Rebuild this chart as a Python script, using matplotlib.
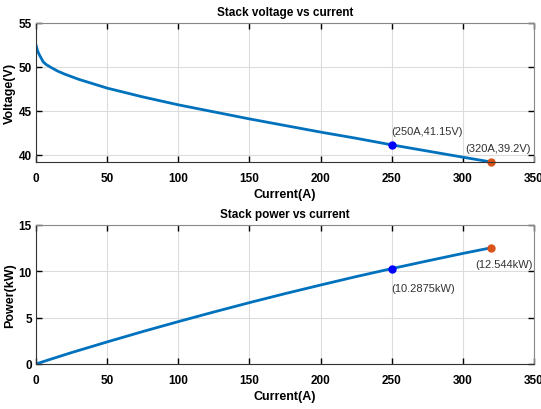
import matplotlib
matplotlib.use("Agg")
import matplotlib.pyplot as plt

# values
current_v = [0, 1, 2, 3, 5, 7, 10, 15, 20, 30, 40, 50, 75, 100, 125, 150, 175, 200, 225, 250, 275, 300, 320]
voltage = [52.5, 51.9, 51.5, 51.2, 50.6, 50.3, 50.0, 49.55, 49.2, 48.6, 48.1, 47.6, 46.6, 45.7, 44.9, 44.1,
           43.35, 42.6, 41.9, 41.15, 40.45, 39.75, 39.2]

current_p = [0, 10, 25, 50, 75, 100, 125, 150, 175, 200, 225, 250, 275, 300, 320]
power = [0, 0.50, 1.23, 2.38, 3.50, 4.57, 5.61, 6.62, 7.59, 8.52, 9.43, 10.29, 11.12, 11.93, 12.544]

pt_mid = (250, 41.15, 10.2875)
pt_end = (320, 39.2, 12.544)

plt.rcParams['font.family'] = ['Liberation Sans', 'DejaVu Sans']

line_col = "#0072BD"
end_col = "#D95319"

fig = plt.figure(figsize=(5.41, 4.10), dpi=100)
ax1 = fig.add_axes([0.0665, 0.6024, 0.9205, 0.3391])
ax2 = fig.add_axes([0.0665, 0.1098, 0.9205, 0.3390])


def style(ax):
    ax.tick_params(direction="in", top=True, right=True, length=4, width=1,
                   labelsize=8.5)
    ax.tick_params(axis="x", pad=7)
    ax.tick_params(axis="y", pad=3)
    for lab in ax.get_xticklabels() + ax.get_yticklabels():
        lab.set_fontweight("bold")
    ax.grid(True, color="#dcdcdc", linewidth=0.8)
    ax.set_axisbelow(True)
    for s in ["top", "right"]:
        ax.spines[s].set_color("#888888")
    for s in ["left", "bottom"]:
        ax.spines[s].set_color("#333333")


ax1.plot(current_v, voltage, color=line_col, linewidth=2)
ax1.plot(pt_mid[0], pt_mid[1], "o", color="blue", markersize=5)
ax1.plot(pt_end[0], pt_end[1], "o", color=end_col, markersize=5, clip_on=False)
ax1.text(250, 42.4, "(250A,41.15V)", fontsize=8, color="#333333")
ax1.text(302, 40.5, "(320A,39.2V)", fontsize=8, color="#333333")
ax1.set_xlim(0, 350)
ax1.set_ylim(39.2, 55)
ax1.set_xticks(range(0, 351, 50))
ax1.set_yticks([40, 45, 50, 55])
ax1.set_title("Stack voltage vs current", fontsize=8.5, fontweight="bold", pad=6)
ax1.set_xlabel("Current(A)", fontsize=9, fontweight="bold", labelpad=3)
ax1.set_ylabel("Voltage(V)", fontsize=9, fontweight="bold", labelpad=2)
style(ax1)

ax2.plot(current_p, power, color=line_col, linewidth=2)
ax2.plot(pt_mid[0], pt_mid[2], "o", color="blue", markersize=5)
ax2.plot(pt_end[0], pt_end[2], "o", color=end_col, markersize=5)
ax2.text(250, 8.2, "(10.2875kW)", fontsize=8, color="#333333", va="center")
ax2.text(309, 10.8, "(12.544kW)", fontsize=8, color="#333333", va="center")
ax2.set_xlim(0, 350)
ax2.set_ylim(0, 15)
ax2.set_xticks(range(0, 351, 50))
ax2.set_yticks([0, 5, 10, 15])
ax2.set_title("Stack power vs current", fontsize=8.5, fontweight="bold", pad=6)
ax2.set_xlabel("Current(A)", fontsize=9, fontweight="bold", labelpad=3)
ax2.set_ylabel("Power(kW)", fontsize=9, fontweight="bold", labelpad=2)
style(ax2)

fig.savefig("out.png", dpi=100)
